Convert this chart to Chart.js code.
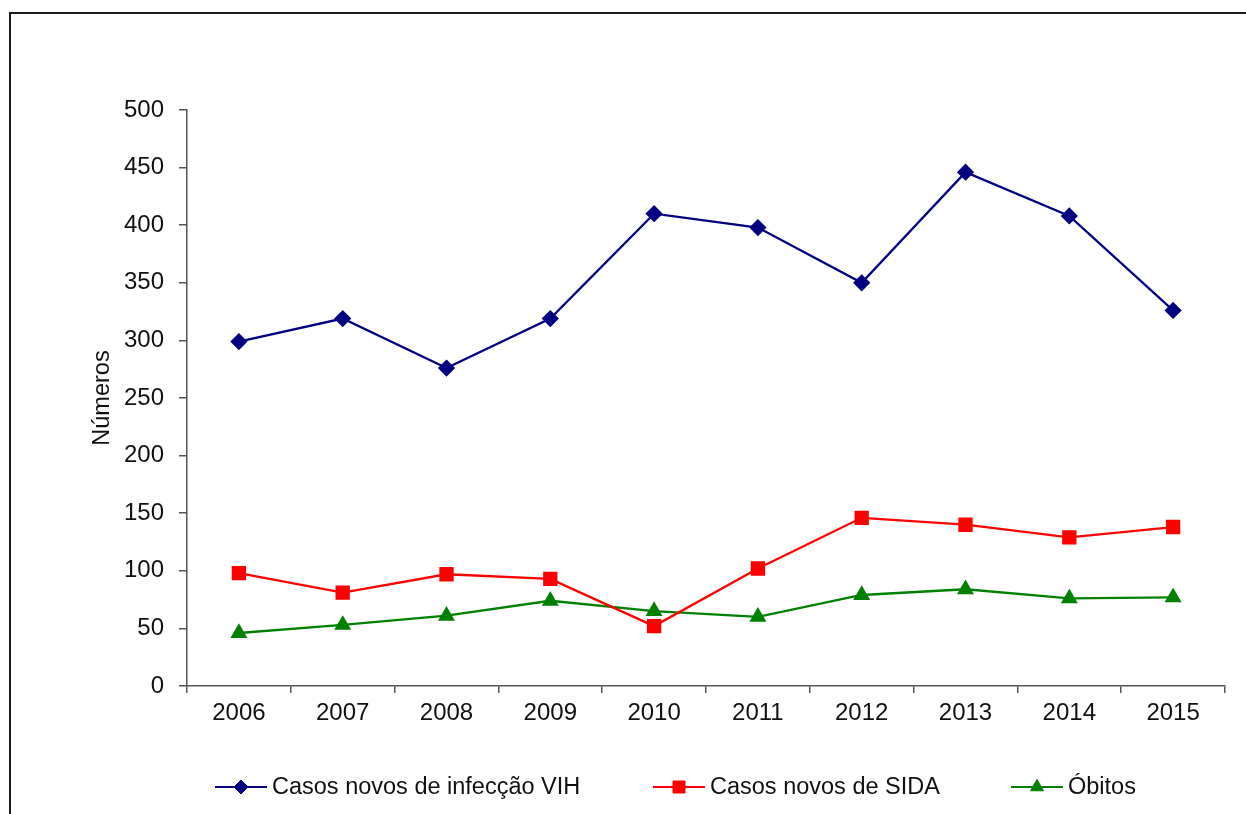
<!DOCTYPE html>
<html>
<head>
<meta charset="utf-8">
<script src="https://cdn.jsdelivr.net/npm/chart.js@4.4.1/dist/chart.umd.min.js"></script>
<style>
  html, body { margin: 0; padding: 0; background: #fff; }
  canvas { display: block; }
</style>
</head>
<body>
<canvas id="myChart" width="1246" height="814"></canvas>
<script>
const years = ['2006', '2007', '2008', '2009', '2010', '2011', '2012', '2013', '2014', '2015'];
const vih = [299, 319, 276, 319, 410, 398, 350, 446, 408, 326];
const sida = [98, 81, 97, 93, 52, 102, 146, 140, 129, 138];
const obitos = [46, 53, 61, 74, 65, 60, 79, 84, 76, 77];
const yTicks = [0, 50, 100, 150, 200, 250, 300, 350, 400, 450, 500];

const FONT = "'Liberation Sans', Arial, sans-serif";

// frame round the picture (left and top edges only, the rest is cropped)
const framePlugin = {
    id: 'frame',
    beforeDraw(chart) {
        const c = chart.ctx;
        c.save();
        c.strokeStyle = '#1a1a1a';
        c.lineWidth = 2;
        c.beginPath();
        c.moveTo(10, chart.height);
        c.lineTo(10, 13);
        c.lineTo(chart.width, 13);
        c.stroke();
        c.restore();
    }
};

// legend drawn like the original: line with the marker on it
const legendStarts = [215, 653, 1011];
const legendPlugin = {
    id: 'lineLegend',
    afterDraw(chart) {
        const c = chart.ctx;
        const y = 787;
        c.save();
        c.font = '23.5px ' + FONT;
        c.textBaseline = 'middle';
        c.textAlign = 'left';
        chart.data.datasets.forEach((ds, i) => {
            const x = legendStarts[i];
            c.strokeStyle = ds.borderColor;
            c.lineWidth = 2;
            c.beginPath();
            c.moveTo(x, y);
            c.lineTo(x + 52, y);
            c.stroke();
            c.fillStyle = ds.pointBackgroundColor;
            c.strokeStyle = ds.borderColor;
            c.lineWidth = 1;
            Chart.helpers.drawPoint(c, {
                pointStyle: ds.pointStyle,
                radius: ds.pointRadius,
                rotation: 0,
                borderWidth: 1
            }, x + 26, y);
            c.fillStyle = '#111';
            c.fillText(ds.label, x + 57, y + 1);
        });
        c.restore();
    }
};

const ctx = document.getElementById('myChart').getContext('2d');
const myChart = new Chart(ctx, {
    type: 'line',
    data: {
        labels: years,
        datasets: [{
            label: 'Casos novos de infecção VIH',
            data: vih,
            borderColor: '#000080',
            backgroundColor: '#000080',
            pointBackgroundColor: '#000080',
            pointStyle: 'rectRot',
            pointRadius: 7,
            borderWidth: 2.3
        }, {
            label: 'Casos novos de SIDA',
            data: sida,
            borderColor: '#ff0000',
            backgroundColor: '#ff0000',
            pointBackgroundColor: '#ff0000',
            pointStyle: 'rect',
            pointRadius: 8.5,
            borderWidth: 2.3
        }, {
            label: 'Óbitos',
            data: obitos,
            borderColor: '#008000',
            backgroundColor: '#008000',
            pointBackgroundColor: '#008000',
            pointStyle: 'triangle',
            pointRadius: 7.5,
            borderWidth: 2.3
        }]
    },
    options: {
        responsive: false,
        animation: false,
        layout: { padding: { left: 80, top: 110, right: 21, bottom: 0 } },
        plugins: {
            legend: { display: false },
            tooltip: { enabled: false }
        },
        elements: {
            line: { tension: 0 },
            point: { borderWidth: 1, hoverRadius: 7 }
        },
        scales: {
            x: {
                offset: true,
                grid: {
                    offset: true,
                    drawOnChartArea: false,
                    drawTicks: true,
                    tickLength: 7,
                    color: '#555',
                    lineWidth: 1.5
                },
                border: { display: true, color: '#555', width: 1.5 },
                ticks: {
                    color: '#111',
                    padding: 6,
                    maxRotation: 0,
                    font: { family: FONT, size: 24 }
                },
                afterFit(axis) { axis.height = 128; }
            },
            y: {
                min: 0,
                max: 500,
                afterBuildTicks(axis) { axis.ticks = yTicks.map(v => ({ value: v })); },
                grid: {
                    drawOnChartArea: false,
                    drawTicks: true,
                    tickLength: 8,
                    color: '#555',
                    lineWidth: 1.5
                },
                border: { display: true, color: '#555', width: 1.5 },
                ticks: {
                    color: '#111',
                    padding: 15,
                    font: { family: FONT, size: 24 }
                },
                title: {
                    display: true,
                    text: 'Números',
                    color: '#111',
                    padding: { top: 8, bottom: 0 },
                    font: { family: FONT, size: 23.5 }
                },
                afterFit(axis) { axis.width = 107; }
            }
        }
    },
    plugins: [framePlugin, legendPlugin]
});
</script>
</body>
</html>
